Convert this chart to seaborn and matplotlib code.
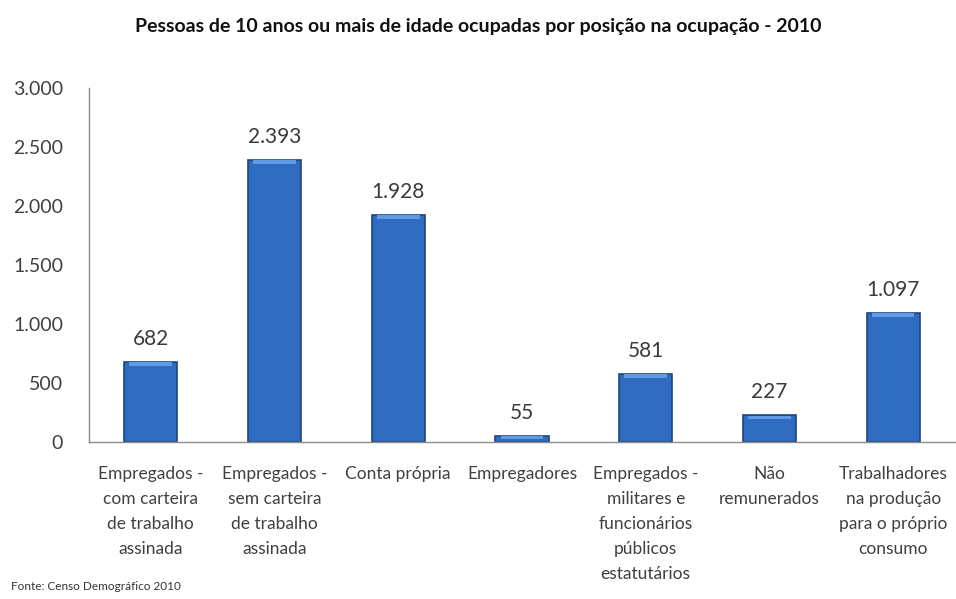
import matplotlib
matplotlib.use("Agg")
import matplotlib.pyplot as plt
import matplotlib.ticker as mticker
import seaborn as sns
import pandas as pd

# Occupied persons aged 10+ by position in occupation, 2010 (thousands)
categories = [
    "Empregados -\ncom carteira\nde trabalho\nassinada",
    "Empregados -\nsem carteira\nde trabalho\nassinada",
    "Conta própria",
    "Empregadores",
    "Empregados -\nmilitares e\nfuncionários\npúblicos\nestatutários",
    "Não\nremunerados",
    "Trabalhadores\nna produção\npara o próprio\nconsumo",
]
values = [682, 2393, 1928, 55, 581, 227, 1097]
y_ticks = [0, 500, 1000, 1500, 2000, 2500, 3000]

df = pd.DataFrame({"categoria": categories, "pessoas": values})

sns.set_style("white")
plt.rcParams["font.family"] = ["Lato", "DejaVu Sans"]

fig = plt.figure(figsize=(9.56, 5.99), dpi=100)
ax = fig.add_axes([0.093, 0.262, 0.906, 0.591])

sns.barplot(data=df, x="categoria", y="pessoas", color="#2F6CBF",
            width=0.43, edgecolor="#1D4580", linewidth=1.2, saturation=1,
            ax=ax)

def br_fmt(v):
    return f"{int(round(v)):,}".replace(",", ".")

# soft bevel at the top of each bar
for bar, v in zip(ax.patches[:len(values)], values):
    x0 = bar.get_x()
    w = bar.get_width()
    cap = min(28, v * 0.4)
    ax.bar(x0 + w / 2, cap, bottom=v - cap - 6, width=w * 0.8,
           color="#5E9BE3", linewidth=0, zorder=3)
    ax.text(x0 + w / 2, v + 110, br_fmt(v), ha="center", va="bottom",
            fontsize=15, color="#3A3A3A")

ax.set_ylim(0, 3000)
ax.set_xlim(-0.5, len(categories) - 0.5)
ax.set_yticks(y_ticks)
ax.yaxis.set_major_formatter(mticker.FuncFormatter(lambda v, p: br_fmt(v)))
ax.set_xlabel("")
ax.set_ylabel("")

for side in ["top", "right"]:
    ax.spines[side].set_visible(False)
for side in ["left", "bottom"]:
    ax.spines[side].set_color("#8C8C8C")
    ax.spines[side].set_linewidth(1.0)

ax.set_xticks([i - 0.5 for i in range(len(categories) + 1)], minor=True)
ax.tick_params(axis="x", which="major", length=0, pad=17, labelsize=12.5,
               colors="#404040")
ax.tick_params(axis="x", which="minor", length=5, color="#8C8C8C",
               direction="out")
ax.tick_params(axis="y", length=6.5, color="#8C8C8C", direction="out",
               labelsize=14, colors="#404040", pad=12)
for lab in ax.get_xticklabels():
    lab.set_linespacing(1.7)

fig.text(0.5, 0.955, "Pessoas de 10 anos ou mais de idade ocupadas por posição na ocupação - 2010",
         ha="center", va="center", fontsize=14, fontweight="bold", color="#111111")
fig.text(0.012, 0.012, "Fonte: Censo Demográfico 2010", ha="left", va="bottom",
         fontsize=8.5, color="#333333")

fig.savefig("out.png", dpi=100, facecolor="white")
